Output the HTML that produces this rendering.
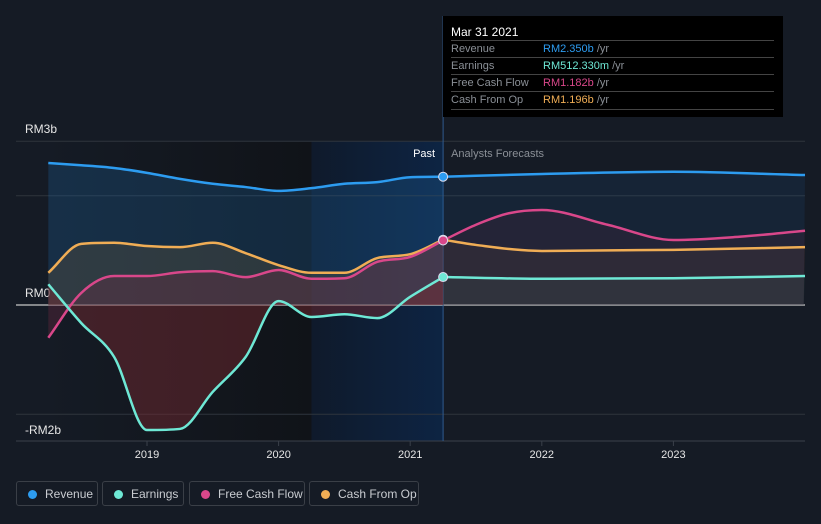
<!DOCTYPE html>
<html><head><meta charset="utf-8"><style>
body{margin:0;background:#151b25;font-family:"Liberation Sans",sans-serif;}
#wrap{position:relative;width:821px;height:524px;overflow:hidden;background:#151b25}
.tip{position:absolute;left:443px;top:16px;width:340px;height:101px;background:#000;color:#ddd;font-size:11px}
.tip .row{position:absolute;left:8px;width:323px;border-top:1px solid #444;height:17px;line-height:17px;color:#8a8f96}
.tip .row span{position:absolute;left:92px}
.leg{position:absolute;top:481px;height:25px;border:1px solid #3a3f47;border-radius:3px;color:#c9ccd1;font-size:12px;line-height:25px;box-sizing:border-box}
.leg i{position:absolute;left:11px;top:8px;width:9px;height:9px;border-radius:50%}
.leg b{font-weight:normal;position:absolute;left:28px}
</style></head><body>
<div id="wrap">
<svg id="svg" width="821" height="524" style="position:absolute;left:0;top:0">
<defs>
<linearGradient id="pastbg" x1="0" x2="1"><stop offset="0" stop-color="#151b25"/><stop offset="1" stop-color="#101318"/></linearGradient>
<linearGradient id="fcbg" x1="0" x2="1"><stop offset="0" stop-color="#0f1a2b"/><stop offset="1" stop-color="#0d2443"/></linearGradient>
</defs>
</svg>
<div class="tip">
<div style="position:absolute;left:8px;top:9px;color:#fff;font-size:12px">Mar 31 2021</div>
<div class="row" style="top:24px">Revenue<span style="color:#2d9cf0">RM2.350b <em style="font-style:normal;color:#8a8f96">/yr</em></span></div>
<div class="row" style="top:41px">Earnings<span style="color:#6ee8d5">RM512.330m <em style="font-style:normal;color:#8a8f96">/yr</em></span></div>
<div class="row" style="top:58px">Free Cash Flow<span style="color:#d9478a">RM1.182b <em style="font-style:normal;color:#8a8f96">/yr</em></span></div>
<div class="row" style="top:75px">Cash From Op<span style="color:#f0ad55">RM1.196b <em style="font-style:normal;color:#8a8f96">/yr</em></span></div>
<div style="position:absolute;left:8px;top:93px;width:323px;border-top:1px solid #444"></div>
</div>
<div class="leg" style="left:16px;width:82px"><i style="background:#2d9cf0"></i><b>Revenue</b></div>
<div class="leg" style="left:102px;width:82px"><i style="background:#6ee8d5"></i><b>Earnings</b></div>
<div class="leg" style="left:189px;width:116px"><i style="background:#d9478a"></i><b>Free Cash Flow</b></div>
<div class="leg" style="left:309px;width:110px"><i style="background:#f0ad55"></i><b>Cash From Op</b></div>
</div>
<script>
const pastT=[2018.25,2018.5,2018.75,2019,2019.25,2019.5,2019.75,2020,2020.25,2020.5,2020.75,2021,2021.25];
const revenuePast=[2.60,2.56,2.51,2.42,2.31,2.22,2.16,2.09,2.14,2.22,2.25,2.34,2.35];
const earningsPast=[0.38,-0.33,-0.95,-2.29,-2.27,-1.59,-0.95,0.07,-0.22,-0.17,-0.24,0.15,0.512];
const fcfPast=[-0.60,0.22,0.53,0.53,0.60,0.62,0.51,0.64,0.48,0.49,0.79,0.88,1.182];
const cfoPast=[0.59,1.12,1.14,1.08,1.06,1.14,0.95,0.73,0.59,0.59,0.86,0.93,1.196];
const revenueFcT=[2021.25,2022,2023,2024];
const revenueFc=[2.35,2.40,2.44,2.38];
const earningsFcT=[2021.25,2022,2023,2024];
const earningsFc=[0.512,0.48,0.49,0.53];
const fcfFcT=[2021.25,2021.5,2021.75,2022,2022.5,2023,2023.5,2024];
const fcfFc=[1.182,1.47,1.68,1.74,1.47,1.19,1.25,1.36];
const cfoFcT=[2021.25,2021.5,2022,2023,2024];
const cfoFc=[1.196,1.10,0.99,1.01,1.06];
const yTicks=[3,0,-2];
const yTickLabels=["RM3b","RM0","-RM2b"];
const xTicks=[2019,2020,2021,2022,2023];

const X=t=>147+(t-2019)*131.6;
const Y=v=>305-v*54.6;
const NS="http://www.w3.org/2000/svg";
const svg=document.getElementById('svg');
function mk(tag,attrs,parent){const e=document.createElementNS(NS,tag);for(const k in attrs)e.setAttribute(k,attrs[k]);(parent||svg).appendChild(e);return e;}
function path(ts,vs){const p=ts.map((t,i)=>[X(t),Y(vs[i])]);const n=p.length;
const d=[],m=new Array(n);for(let i=0;i<n-1;i++)d.push((p[i+1][1]-p[i][1])/(p[i+1][0]-p[i][0]));
m[0]=d[0];m[n-1]=d[n-2];for(let i=1;i<n-1;i++){m[i]=(d[i-1]*d[i]<=0)?0:(d[i-1]+d[i])/2;}
for(let i=0;i<n-1;i++){if(d[i]===0){m[i]=0;m[i+1]=0;continue;}const a=m[i]/d[i],b=m[i+1]/d[i],s=a*a+b*b;if(s>9){const t=3/Math.sqrt(s);m[i]=t*a*d[i];m[i+1]=t*b*d[i];}}
let s=`M${p[0][0]},${p[0][1]}`;for(let i=0;i<n-1;i++){const h=(p[i+1][0]-p[i][0])/3;
s+=` C${p[i][0]+h},${p[i][1]+m[i]*h} ${p[i+1][0]-h},${p[i+1][1]-m[i+1]*h} ${p[i+1][0]},${p[i+1][1]}`;}return s;}
const x0=X(2018.25),xNow=X(2021.25),xEnd=X(2023.99);
let r;
r=mk('rect',{x:x0,y:141,width:X(2020.25)-x0,height:300,fill:'url(#pastbg)'});
r=mk('rect',{x:X(2020.25),y:141,width:xNow-X(2020.25),height:300,fill:'url(#fcbg)'});
yTicks.forEach((v,i)=>{const l=mk('line',{x1:16,x2:805,y1:Y(v),y2:Y(v),stroke:v===0?'#c8c8c8':'#2e343d','stroke-width':v===0?1.3:1});

const t=mk('text',{x:25,y:Y(v)+(v===3?-8:v===0?-8:20),fill:'#e6e6e6','font-size':12});t.textContent=yTickLabels[i];
});
let g=mk('line',{x1:16,x2:805,y1:Y(2),y2:Y(2),stroke:'#2e343d'});
g=mk('line',{x1:16,x2:805,y1:441,y2:441,stroke:'#3a404a'});
xTicks.forEach(t=>{const tx=mk('text',{x:X(t),y:458,fill:'#e6e6e6','font-size':11,'text-anchor':'middle'});tx.textContent=t;

const tk=mk('line',{x1:X(t),x2:X(t),y1:441,y2:446,stroke:'#3a404a'});});
g=mk('line',{x1:xNow,x2:xNow,y1:16,y2:441,stroke:'#2f5a8f'});
let tt=mk('text',{x:xNow-8,y:157,fill:'#fff','font-size':11,'text-anchor':'end'});tt.textContent='Past';
tt=mk('text',{x:xNow+8,y:157,fill:'#8a8f96','font-size':11});tt.textContent='Analysts Forecasts';
const series=[
['revenue',revenuePast,revenueFcT,revenueFc,'#2d9cf0','#1f5f97'],
['cash-from-op',cfoPast,cfoFcT,cfoFc,'#f0ad55','#6b5a3a'],
['free-cash-flow',fcfPast,fcfFcT,fcfFc,'#d9478a','#7a2a45'],
['earnings',earningsPast,earningsFcT,earningsFc,'#6ee8d5','#3a6b66']];
series.forEach(s=>{
const dp=path(pastT,s[1]);const df=path(s[2],s[3]);
let a=mk('path',{d:dp+` L${xNow},${Y(0)} L${x0},${Y(0)} Z`,fill:s[0]==='earnings'?'#7a2a30':s[5],opacity:s[0]==='earnings'?0.45:0.3});
a=mk('path',{d:df+` L${xEnd},${Y(0)} L${xNow},${Y(0)} Z`,fill:s[5],opacity:0.15});});
series.forEach(s=>{
let l=mk('path',{d:path(pastT,s[1]),fill:'none',stroke:s[4],'stroke-width':2.5});
l=mk('path',{d:path(s[2],s[3]),fill:'none',stroke:s[4],'stroke-width':2.5});
const c=mk('circle',{cx:xNow,cy:Y(s[1][s[1].length-1]),r:4.5,fill:s[4],stroke:'#dde','stroke-width':1});});
</script>
</body></html>
